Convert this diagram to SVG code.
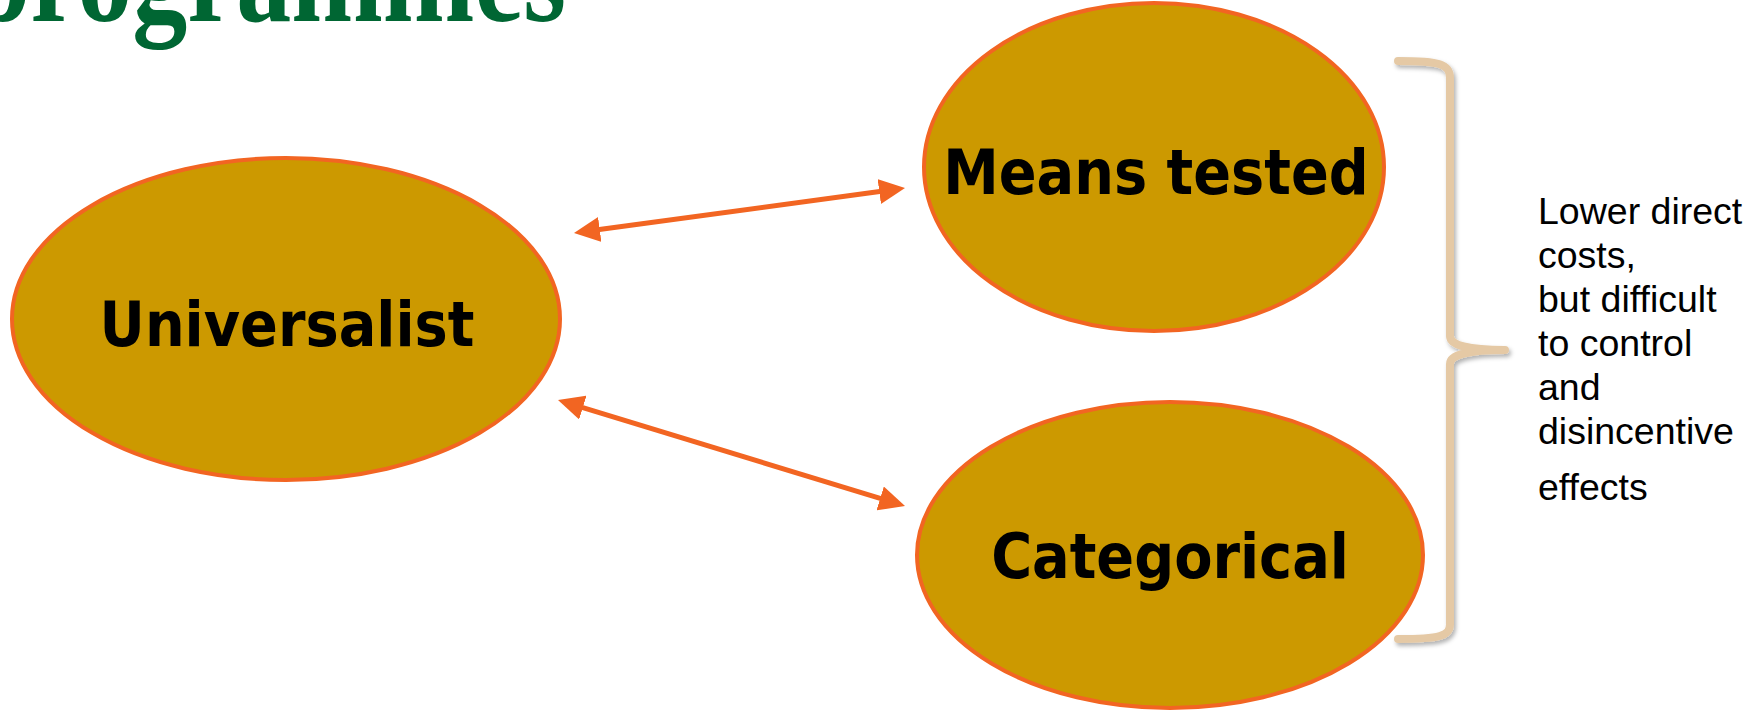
<svg xmlns="http://www.w3.org/2000/svg" width="1750" height="711" viewBox="0 0 1750 711">
<style>
.node{fill:#CC9900;stroke:#F26522;stroke-width:4}
.lbl{font-family:"DejaVu Sans Condensed","DejaVu Sans",Tahoma,sans-serif;font-stretch:condensed;font-weight:bold;font-size:62px;fill:#000;text-anchor:middle}
.conn{stroke:#F26522;stroke-width:5;fill:none}
.note{font-family:"Liberation Sans",Arial,sans-serif;font-size:37.5px;fill:#000}
.title{font-family:"Liberation Serif","Times New Roman",serif;font-weight:bold;font-size:110px;fill:#006633}
</style>
<defs>
<marker id="ah" markerUnits="userSpaceOnUse" markerWidth="26" markerHeight="25" refX="6" refY="12.5" orient="auto-start-reverse">
<path d="M0,0 L26,12.5 L0,25 z" fill="#F26522"/>
</marker>
<filter id="sh" x="-20%" y="-5%" width="140%" height="110%">
<feDropShadow dx="2" dy="3" stdDeviation="2" flood-color="#000" flood-opacity="0.3"/>
</filter>
</defs>
<rect width="1750" height="711" fill="#fff"/>
<text class="title" x="566" y="17.5" text-anchor="end" transform="scale(1,1.2)">programmes</text>
<g id="connectors">
<line class="conn" x1="593.8" y1="230.3" x2="885.2" y2="190.7" marker-start="url(#ah)" marker-end="url(#ah)"/>
<line class="conn" x1="577.1" y1="405.8" x2="885.9" y2="500.2" marker-start="url(#ah)" marker-end="url(#ah)"/>
</g>
<g id="universalist">
<ellipse class="node" cx="286" cy="319" rx="274" ry="161"/>
<text class="lbl" x="287" y="346">Universalist</text>
</g>
<g id="means-tested">
<ellipse class="node" cx="1154" cy="167" rx="230" ry="164"/>
<text class="lbl" x="1156" y="194">Means tested</text>
</g>
<g id="categorical">
<ellipse class="node" cx="1170" cy="555" rx="253" ry="153"/>
<text class="lbl" x="1170" y="578">Categorical</text>
</g>
<g id="brace">
<path d="M1398,61 C1440,61 1450,64 1450,78 L1450,336 Q1450,350 1505,350 M1505,350 Q1450,350 1450,364 L1450,624 C1450,636 1440,639 1398,639" fill="none" stroke="#E5C9A5" stroke-width="8" stroke-linecap="round" filter="url(#sh)"/>
</g>
<g id="note">
<text class="note" x="1538" y="224">Lower direct</text>
<text class="note" x="1538" y="268">costs,</text>
<text class="note" x="1538" y="312">but difficult</text>
<text class="note" x="1538" y="356">to control</text>
<text class="note" x="1538" y="400">and</text>
<text class="note" x="1538" y="444">disincentive</text>
<text class="note" x="1538" y="500">effects</text>
</g>
</svg>
